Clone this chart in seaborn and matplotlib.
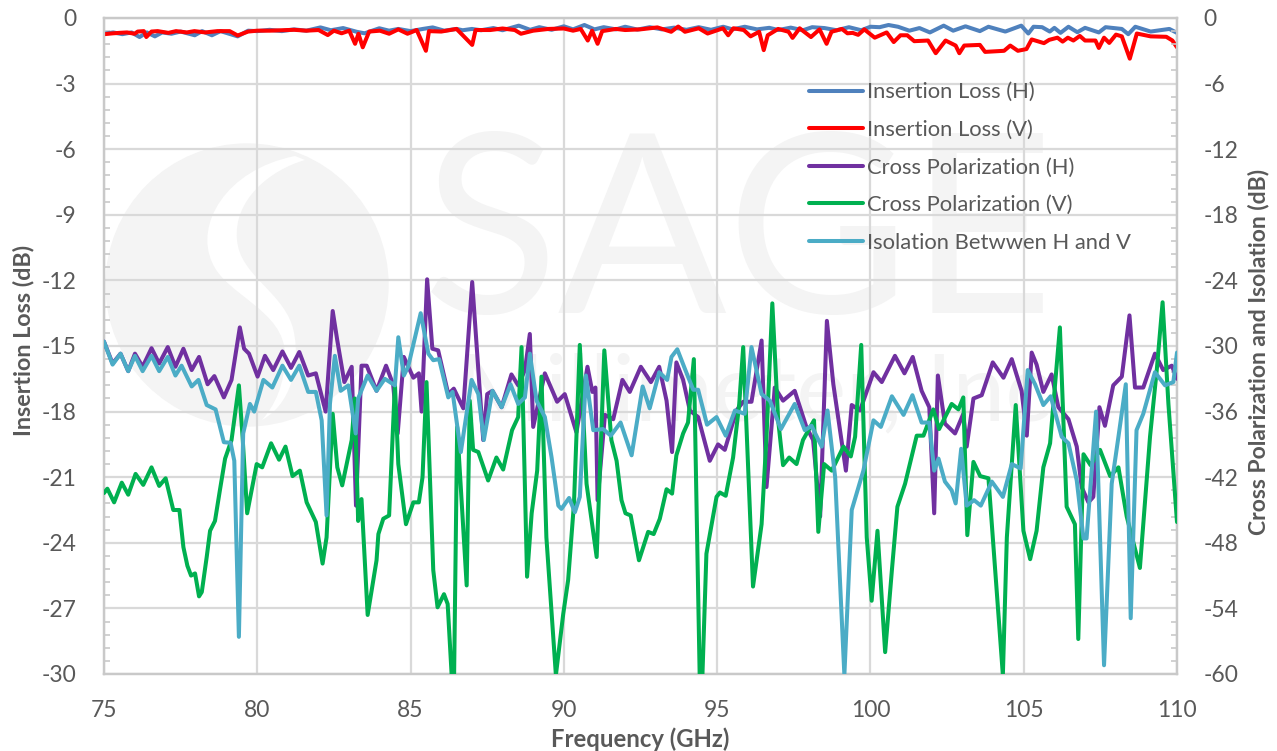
"""
Insertion loss, cross polarization and isolation vs frequency, H and V ports
"""

# %% Imports
import matplotlib

matplotlib.use("Agg")
import seaborn as sns
from matplotlib import pyplot as plt
from matplotlib.patches import Circle, PathPatch
from matplotlib.path import Path
from matplotlib.ticker import MultipleLocator

# %% Data. Each series has its own frequency list
IL_H_FREQ = [75, 75.3, 75.6, 75.9, 76.16, 76.4, 76.66, 76.9, 77.2, 77.5, 77.96, 78.2, 78.52, 78.8, 79.36, 79.7, 80, 80.4, 80.8,
             81.2, 81.6, 82.06, 82.4, 82.8, 83.24, 83.5, 83.98, 84.3, 84.6, 85, 85.4, 85.72, 86.1, 86.5, 86.7, 87, 87.3, 87.7,
             88, 88.53, 88.9, 89.2, 89.6, 90, 90.3, 90.67, 91, 91.3, 91.7, 92, 92.4, 92.8, 93.2, 93.6, 94, 94.4, 94.8, 95.2,
             95.5, 95.9, 96.3, 96.7, 97, 97.4, 97.8, 98.1, 98.5, 98.9, 99.3, 99.7, 100, 100.3, 100.59, 100.9, 101.27, 101.6,
             101.94, 102.39, 102.7, 103.1, 103.57, 103.85, 104.4, 104.92, 105.15, 105.32, 105.6, 105.85, 106, 106.2, 106.46,
             106.75, 107, 107.45, 107.67, 108.2, 108.41, 108.64, 109.14, 109.75, 110]
IL_H_DB = [-0.72, -0.66, -0.74, -0.66, -0.87, -0.66, -0.84, -0.66, -0.72, -0.62, -0.79, -0.6, -0.79, -0.6, -0.84, -0.58, -0.6,
           -0.54, -0.6, -0.52, -0.58, -0.43, -0.56, -0.46, -0.63, -0.7, -0.47, -0.58, -0.5, -0.6, -0.5, -0.43, -0.58, -0.5,
           -0.56, -0.5, -0.56, -0.46, -0.56, -0.35, -0.54, -0.42, -0.54, -0.38, -0.52, -0.32, -0.52, -0.42, -0.52, -0.4,
           -0.53, -0.42, -0.52, -0.44, -0.54, -0.42, -0.54, -0.4, -0.52, -0.4, -0.52, -0.45, -0.55, -0.44, -0.56, -0.42,
           -0.46, -0.56, -0.42, -0.56, -0.4, -0.42, -0.32, -0.4, -0.58, -0.46, -0.66, -0.35, -0.58, -0.38, -0.6, -0.4,
           -0.62, -0.35, -0.71, -0.4, -0.42, -0.62, -0.45, -0.68, -0.4, -0.65, -0.45, -0.66, -0.42, -0.5, -0.74, -0.4, -0.62,
           -0.5, -0.68]

IL_V_FREQ = [75, 75.3, 75.5, 75.75, 76, 76.1, 76.3, 76.38, 76.55, 76.75, 77.1, 77.35, 77.7, 77.95, 78.3, 78.7, 79.1, 79.36, 79.7,
             80, 80.4, 80.8, 81.2, 81.6, 82, 82.3, 82.5, 82.75, 83, 83.19, 83.3, 83.44, 83.65, 84, 84.3, 84.6, 84.9, 85.2, 85.5,
             85.6, 86, 86.5, 87.01, 87.12, 87.6, 88, 88.4, 88.6, 89, 89.5, 90, 90.3, 90.55, 90.78, 90.92, 91.1, 91.25, 91.7, 92,
             92.49, 93.05, 93.5, 93.73, 93.95, 94.4, 94.69, 95.19, 95.36, 95.53, 95.87, 96.09, 96.37, 96.52, 96.65, 96.99, 97.33,
             97.46, 97.69, 98.06, 98.34, 98.57, 98.73, 99.07, 99.25, 99.42, 99.6, 99.8, 100.14, 100.53, 100.76, 100.98, 101.2,
             101.43, 101.88, 102.13, 102.45, 102.78, 102.9, 103.06, 103.57, 103.74, 104.36, 104.56, 104.81, 105.09, 105.26, 105.66,
             105.83, 106.1, 106.27, 106.44, 106.62, 106.83, 107, 107.34, 107.45, 107.62, 107.79, 108.01, 108.2, 108.46, 108.69,
             109.14, 109.65, 109.85, 110]
IL_V_DB = [-0.74, -0.7, -0.68, -0.66, -0.72, -0.62, -0.6, -0.87, -0.62, -0.6, -0.68, -0.6, -0.66, -0.6, -0.66, -0.6, -0.6, -0.8, -0.62,
           -0.58, -0.58, -0.56, -0.54, -0.58, -0.55, -0.78, -0.58, -0.7, -0.58, -1.18, -0.72, -1.34, -0.62, -0.58, -0.72, -0.52,
           -0.72, -0.55, -1.5, -0.6, -0.62, -0.5, -1.23, -0.55, -0.55, -0.48, -0.55, -0.72, -0.58, -0.5, -0.48, -0.58, -0.5, -1.03,
           -0.58, -1.18, -0.6, -0.5, -0.55, -0.52, -0.43, -0.63, -0.39, -0.63, -0.47, -0.71, -0.47, -0.79, -0.47, -0.55, -0.84, -0.63,
           -1.47, -0.79, -0.5, -0.63, -0.91, -0.47, -0.87, -0.52, -1.18, -0.63, -0.5, -0.7, -0.68, -0.77, -0.52, -0.9, -0.66, -1.1,
           -0.79, -0.79, -1.06, -1.03, -1.61, -1.03, -1.26, -1.61, -1.26, -1.23, -1.55, -1.5, -1.26, -1.5, -1.42, -0.98, -1.15, -1.0,
           -0.9, -1.08, -0.9, -1.03, -0.82, -1.03, -1.03, -1.37, -0.9, -1.14, -0.76, -0.84, -1.86, -0.71, -0.84, -0.86, -1.03, -1.34]

XPOL_H_FREQ = [75, 75.28, 75.54, 75.79, 76.01, 76.26, 76.55, 76.8, 77.08, 77.33, 77.59, 77.86, 78.1, 78.38, 78.6, 78.91, 79.16, 79.43,
               79.57, 79.73, 80.01, 80.25, 80.52, 80.82, 81.1, 81.37, 81.66, 81.91, 82.23, 82.46, 82.61, 82.84, 83.08, 83.22, 83.4, 83.57,
               83.89, 84.2, 84.43, 84.58, 84.78, 85.09, 85.27, 85.36, 85.54, 85.71, 85.9, 86.23, 86.41, 86.72, 87.01, 87.37, 87.5, 87.67,
               87.97, 88.29, 88.51, 88.73, 88.89, 89.0, 89.38, 89.78, 90.03, 90.41, 90.77, 90.93, 91.03, 91.1, 91.34, 91.61, 91.91, 92.15,
               92.51, 92.84, 93.11, 93.35, 93.53, 93.67, 93.89, 94.11, 94.38, 94.76, 95.03, 95.25, 95.63, 95.85, 96.12, 96.45, 96.61, 96.88,
               97.15, 97.53, 97.91, 98.13, 98.36, 98.58, 98.79, 99.2, 99.39, 99.66, 100.1, 100.37, 100.8, 101.11, 101.38, 101.67, 101.92,
               102.08, 102.2, 102.43, 102.76, 103.03, 103.14, 103.36, 103.63, 103.99, 104.34, 104.61, 104.93, 105.1, 105.26, 105.42, 105.64,
               105.91, 106.13, 106.46, 106.73, 106.89, 107.11, 107.27, 107.47, 107.65, 107.92, 108.2, 108.45, 108.63, 108.9, 109.28, 109.55,
               109.83, 110]
XPOL_H_DB = [-29.6, -31.6, -30.7, -32.3, -30.7, -31.9, -30.2, -31.6, -30.1, -31.9, -30.25, -32.2, -31.0, -33.5, -32.75, -34.7, -33.1, -28.3,
             -30.25, -30.7, -32.8, -30.9, -32.2, -30.5, -32.0, -30.55, -32.7, -32.5, -36.0, -26.8, -29.5, -33.3, -31.9, -44.6, -31.8, -31.8,
             -34.1, -31.8, -33.5, -38.0, -31.0, -32.9, -32.5, -36.0, -23.9, -30.25, -30.4, -34.4, -33.9, -35.7, -24.15, -38.6, -34.4, -34.1,
             -35.6, -32.6, -33.6, -32.2, -28.9, -37.4, -32.5, -35.1, -34.4, -37.9, -31.9, -34.2, -33.8, -44.1, -36.3, -36.7, -33.1, -34.2,
             -31.9, -33.3, -31.9, -35.0, -39.7, -31.5, -33.1, -35.9, -36.5, -40.5, -39.0, -39.5, -35.9, -35.1, -35.1, -29.5, -42.9, -33.8,
             -35.0, -34.1, -37.4, -38.6, -45.6, -27.7, -33.5, -41.4, -35.4, -35.9, -32.4, -33.3, -30.9, -32.5, -31.0, -34.1, -35.6,
             -45.3, -32.7, -37.1, -38.0, -36.2, -39.2, -34.8, -34.5, -31.5, -32.9, -31.2, -34.1, -38.2, -30.6, -31.7, -34.2,
             -32.6, -35.6, -36.7, -39.2, -42.9, -44.3, -43.8, -35.6, -37.3, -33.6, -32.8, -27.2, -33.8, -33.8, -30.7, -32.2,
             -31.8, -33.0]

XPOL_V_FREQ = [75, 75.11, 75.33, 75.58, 75.79, 76.03, 76.28, 76.55, 76.8, 77.01, 77.26, 77.46, 77.59, 77.72, 77.84, 77.97, 78.1, 78.19,
               78.35, 78.46, 78.62, 78.78, 78.95, 79.16, 79.4, 79.52, 79.67, 79.98, 80.16, 80.45, 80.71, 80.92, 81.15, 81.39, 81.61, 81.91,
               82.13, 82.26, 82.46, 82.61, 82.77, 83.08, 83.18, 83.29, 83.4, 83.6, 83.89, 83.95, 84.11, 84.3, 84.49, 84.6, 84.85, 85.09,
               85.27, 85.39, 85.52, 85.74, 85.88, 86.09, 86.21, 86.34, 86.42, 86.52, 86.83, 86.93, 87.04, 87.21, 87.53, 87.8, 88.02, 88.31,
               88.51, 88.62, 88.8, 88.95, 89.13, 89.27, 89.43, 89.74, 89.98, 90.14, 90.33, 90.52, 90.74, 91.07, 91.32, 91.55, 91.72, 91.88,
               92.01, 92.18, 92.45, 92.75, 92.93, 93.13, 93.35, 93.53, 93.67, 93.89, 94.05, 94.24, 94.43, 94.52, 94.65, 94.98, 95.09, 95.28,
               95.52, 95.72, 95.85, 96.17, 96.45, 96.61, 96.8, 96.99, 97.15, 97.35, 97.59, 97.8, 98.16, 98.3, 98.49, 98.74, 99.12, 99.36,
               99.5, 99.7, 99.88, 100.04, 100.23, 100.48, 100.7, 100.88, 101.13, 101.51, 101.73, 102.05, 102.24, 102.65, 102.87, 103.03,
               103.16, 103.36, 103.58, 103.85, 104.32, 104.45, 104.74, 104.99, 105.21, 105.42, 105.64, 105.86, 106.18, 106.4, 106.67,
               106.78, 106.95, 107.18, 107.49, 107.82, 108.09, 108.36, 108.79, 109.12, 109.34, 109.53, 109.72, 110]
XPOL_V_DB = [-43.45, -43.05, -44.3, -42.5, -43.6, -41.7, -42.7, -41.1, -42.8, -42.1, -45.0, -45.0, -48.4, -50.1, -51.0, -50.8, -52.9, -52.5,
             -49.3, -46.9, -46.0, -43.2, -40.3, -38.6, -33.6, -38.3, -45.3, -40.8, -41.1, -38.9, -40.4, -39.2, -41.9, -41.4, -44.3, -46.1,
             -49.9, -47.5, -36.2, -41.1, -42.75, -38.6, -34.8, -46.0, -44.0, -54.6, -49.6, -47.2, -45.8, -45.5, -33.5, -40.8, -46.3, -44.3,
             -44.3, -42.0, -33.3, -50.5, -53.9, -52.7, -53.6, -60.1, -60.1, -37.4, -51.9, -35.0, -39.5, -39.7, -42.3, -40.2, -41.3, -37.7,
             -36.5, -30.1, -51.1, -45.3, -41.4, -32.8, -47.5, -60.1, -54.5, -51.4, -44.4, -29.9, -42.6, -49.3, -30.4, -38.6, -40.5, -44.1,
             -45.3, -45.5, -49.6, -47.0, -47.2, -45.8, -43.1, -43.5, -40.0, -38.0, -37.0, -31.2, -60.1, -60.1, -49.0, -43.8, -43.4, -43.7,
             -40.2, -35.3, -30.1, -52.0, -46.3, -38.3, -26.1, -36.8, -40.9, -40.2, -40.8, -38.6, -36.8, -47.0, -40.8, -41.4, -39.2, -40.1,
             -38.3, -29.9, -47.5, -53.3, -46.9, -58.0, -50.5, -44.7, -42.6, -38.2, -38.2, -35.8, -37.6, -35.3, -35.8, -34.7,
             -47.3, -40.6, -41.9, -42.1, -60.1, -47.5, -35.4, -46.9, -49.5, -46.9, -41.1, -38.9, -28.3, -44.7, -46.3,
             -56.8, -39.9, -40.9, -39.5, -41.9, -41.1, -45.6, -50.3, -38.3, -32.2, -26.0, -35.3, -46.1]

ISO_FREQ = [75, 75.28, 75.54, 75.79, 76.01, 76.26, 76.55, 76.8, 77.08, 77.33, 77.53, 77.86, 78.08, 78.35, 78.64, 78.91, 79.13, 79.25, 79.4,
            79.54, 79.76, 79.9, 80.2, 80.49, 80.82, 81.1, 81.37, 81.66, 81.91, 82.1, 82.26, 82.37, 82.53, 82.72, 82.97, 83.21, 83.29, 83.6,
            83.89, 84.16, 84.49, 84.6, 84.78, 84.92, 85.33, 85.58, 85.74, 85.93, 86.23, 86.37, 86.64, 86.99, 87.21, 87.39, 87.67, 87.97, 88.26,
            88.51, 88.73, 88.89, 89.11, 89.38, 89.6, 89.82, 89.92, 90.17, 90.36, 90.52, 90.72, 90.96, 91.28, 91.53, 91.85, 92.21, 92.57, 92.8,
            93.11, 93.37, 93.51, 93.7, 93.95, 94.22, 94.38, 94.67, 94.98, 95.28, 95.58, 95.9, 96.12, 96.45, 96.72, 97.08, 97.53, 97.86, 98.08,
            98.41, 98.6, 98.85, 99.15, 99.39, 99.77, 100.1, 100.34, 100.7, 101.08, 101.37, 101.67, 101.92, 102.08, 102.22, 102.43, 102.65, 102.78,
            102.96, 103.14, 103.38, 103.6, 103.96, 104.32, 104.61, 104.9, 105.13, 105.37, 105.64, 105.88, 106.24, 106.46, 106.73, 106.95, 107.05,
            107.36, 107.62, 107.87, 108.09, 108.33, 108.49, 108.68, 108.9, 109.28, 109.61, 109.88, 110]
ISO_DB = [-29.6, -31.7, -30.7, -32.3, -30.9, -32.3, -30.9, -32.3, -31.0, -32.7, -31.8, -33.7, -33.1, -35.4, -35.8, -38.8, -38.85, -40.5, -56.6,
          -38.0, -35.3, -36.0, -33.1, -33.8, -31.8, -33.1, -31.8, -34.2, -34.2, -36.8, -45.5, -35.3, -30.9, -34.1, -33.6, -38.0, -34.8, -32.7,
          -34.1, -33.0, -33.6, -29.2, -32.7, -31.9, -27.0, -30.7, -31.3, -31.2, -34.7, -34.2, -39.7, -33.1, -34.4, -38.6, -34.1, -35.6, -33.5,
          -35.3, -34.7, -30.7, -35.0, -36.5, -40.2, -44.6, -44.9, -43.9, -45.2, -43.8, -32.7, -37.7, -37.6, -38.2, -37.0, -40.0, -33.7, -35.7,
          -32.4, -33.1, -31.0, -30.3, -32.1, -34.0, -34.0, -37.2, -36.5, -38.2, -35.9, -36.2, -30.1, -34.4, -35.0, -37.6, -35.3, -37.7, -37.3,
          -39.2, -35.9, -42.0, -60.1, -45.0, -41.4, -36.8, -37.4, -34.6, -36.3, -34.5, -37.0, -37.0, -41.4, -40.3, -42.4, -43.2, -44.4,
          -39.4, -44.6, -44.1, -44.6, -42.4, -43.8, -40.8, -41.2, -32.2, -33.5, -35.4, -34.6, -38.3, -38.9, -42.3, -47.6, -47.6,
          -36.0, -59.2, -42.6, -38.3, -33.5, -54.9, -37.7, -36.2, -32.4, -33.6, -33.3, -30.6]

SERIES_NAMES = ["Insertion Loss (H)", "Insertion Loss (V)", "Cross Polarization (H)", "Cross Polarization (V)", "Isolation Betwwen H and V"]
SERIES_COLORS = ["#4f81bd", "#ff0000", "#7030a0", "#00b050", "#4bacc6"]

LEFT_TICKS = [0, -3, -6, -9, -12, -15, -18, -21, -24, -27, -30]
RIGHT_TICKS = [0, -6, -12, -18, -24, -30, -36, -42, -48, -54, -60]
FREQ_TICKS = [75, 80, 85, 90, 95, 100, 105, 110]

TEXT_GRAY = "#595959"
GRID_GRAY = "#d9d9d9"
MARK_GRAY = "#f4f4f4"
LINE_WIDTH = 2.9


# %% Functions
def style_axis(ax):
    ax.spines[["top", "right", "left", "bottom"]].set_color("#c9c9c9")
    ax.spines[["top", "right", "left", "bottom"]].set_linewidth(1.6)
    ax.tick_params(which="major", length=0, labelsize=16.5, labelcolor=TEXT_GRAY)
    ax.tick_params(which="minor", direction="in", length=4, width=1.2, color="#c9c9c9")


def _px(x, y):
    # picture pixels (top left origin) to inches, used with dpi_scale_trans
    return x / 100, 7.51 - y / 100


def add_watermark(ax):
    # faint company logo behind the data
    fig = ax.figure
    ax.add_patch(Circle(_px(247, 285), 1.41, transform=fig.dpi_scale_trans, color=MARK_GRAY, zorder=0))
    verts = [
        (295, 156),
        (225, 170), (195, 225), (212, 262),
        (225, 295), (285, 310), (285, 355),
        (285, 385), (275, 405), (262, 420),
        (298, 400), (300, 350), (292, 325),
        (280, 290), (240, 275), (237, 240),
        (233, 200), (270, 170), (305, 160),
        (295, 156),
    ]
    codes = [Path.MOVETO] + [Path.CURVE4] * 18 + [Path.CLOSEPOLY]
    swoosh = Path([_px(*v) for v in verts], codes)
    ax.add_patch(PathPatch(swoosh, transform=fig.dpi_scale_trans, facecolor="white", edgecolor="none", zorder=0))
    ax.text(739 / 1277, 1 - 313 / 751, "SAGE", transform=fig.transFigure, fontsize=180, color=MARK_GRAY,
            ha="center", va="baseline", zorder=0)
    ax.text(765 / 1277, 1 - 420 / 751, "Millimeter, Inc.", transform=fig.transFigure, fontsize=68, color=MARK_GRAY,
            ha="center", va="baseline", zorder=0)


def plot_chart():
    sns.set_theme(style="white")
    plt.rcParams["font.family"] = ["Lato", "DejaVu Sans"]
    plt.rcParams["axes.unicode_minus"] = False

    fig, ax = plt.subplots(figsize=(12.77, 7.51), dpi=100)
    fig.subplots_adjust(left=104 / 1277, right=1177 / 1277, top=1 - 18 / 751, bottom=1 - 674 / 751)
    ax2 = ax.twinx()

    # loss traces on the left scale, the rest on the right one
    sns.lineplot(x=IL_H_FREQ, y=IL_H_DB, color=SERIES_COLORS[0], linewidth=LINE_WIDTH, ax=ax, zorder=3, legend=False)
    sns.lineplot(x=IL_V_FREQ, y=IL_V_DB, color=SERIES_COLORS[1], linewidth=LINE_WIDTH, ax=ax, zorder=4, legend=False)
    sns.lineplot(x=XPOL_H_FREQ, y=XPOL_H_DB, color=SERIES_COLORS[2], linewidth=LINE_WIDTH, ax=ax2, zorder=3, legend=False)
    sns.lineplot(x=XPOL_V_FREQ, y=XPOL_V_DB, color=SERIES_COLORS[3], linewidth=LINE_WIDTH, ax=ax2, zorder=4, legend=False)
    sns.lineplot(x=ISO_FREQ, y=ISO_DB, color=SERIES_COLORS[4], linewidth=LINE_WIDTH, ax=ax2, zorder=5, legend=False)

    ax.set_xlim(75, 110)
    ax.set_ylim(-30, 0)
    ax2.set_ylim(-60, 0)
    ax.set_xticks(FREQ_TICKS)
    ax.set_yticks(LEFT_TICKS)
    ax2.set_yticks(RIGHT_TICKS)
    ax.xaxis.set_minor_locator(MultipleLocator(1))
    ax.yaxis.set_minor_locator(MultipleLocator(0.6))
    ax2.yaxis.set_minor_locator(MultipleLocator(1.2))
    ax.grid(True, which="major", color=GRID_GRAY, linewidth=1.6)
    ax.set_axisbelow(True)
    ax2.grid(False)

    style_axis(ax)
    style_axis(ax2)
    ax.tick_params(axis="x", which="major", pad=19)
    ax.tick_params(axis="y", which="major", pad=20)
    ax2.tick_params(axis="y", which="major", pad=19)
    add_watermark(ax)

    ax.set_xlabel("Frequency (GHz)", fontsize=17.2, fontweight="bold", color=TEXT_GRAY)
    ax.set_ylabel("Insertion Loss (dB)", fontsize=16.8, fontweight="bold", color=TEXT_GRAY)
    ax2.set_ylabel("Cross Polarization and Isolation (dB)", fontsize=16.5, fontweight="bold", color=TEXT_GRAY)
    ax.xaxis.set_label_coords(0.4995, -0.082)
    ax.yaxis.set_label_coords(-0.0652, 0.509)
    ax2.yaxis.set_label_coords(1.066, 0.491)

    handles = ax.get_lines()[:2] + ax2.get_lines()[:3]
    ax2.legend(
        handles=handles,
        labels=SERIES_NAMES,
        loc="upper left",
        bbox_to_anchor=(0.657, 0.902),
        frameon=False,
        fontsize=15.8,
        labelcolor=TEXT_GRAY,
        handlelength=2.45,
        handletextpad=0.2,
        labelspacing=0.8,
        borderpad=0,
        borderaxespad=0,
    )
    fig.savefig("out.png", dpi=100)


# %% Main
plot_chart()
